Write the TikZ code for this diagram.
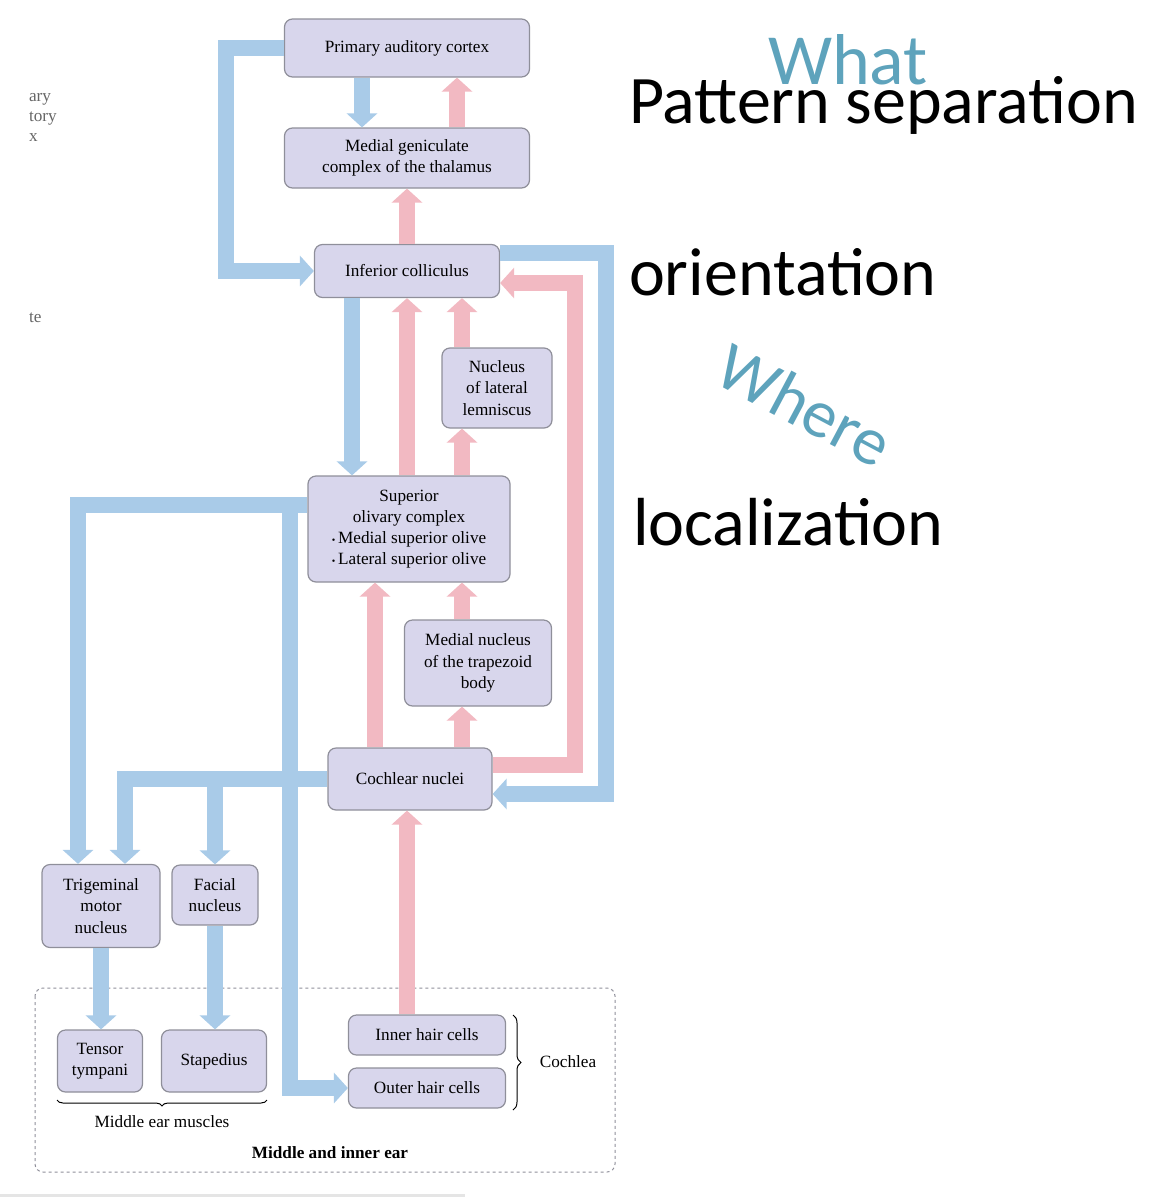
\documentclass[tikz,border=0pt]{standalone}
\usepackage{fontspec}
\setmainfont{Liberation Serif}
\newfontfamily\side{Carlito}
\usetikzlibrary{arrows.meta,decorations.pathreplacing}
\definecolor{bfill}{HTML}{A9CBE8}
\definecolor{pfill}{HTML}{F2B9C2}
\definecolor{boxf}{HTML}{D8D6EC}
\definecolor{boxd}{HTML}{8F8F9A}
\definecolor{teal}{HTML}{5EA3BC}
\begin{document}
\begin{tikzpicture}[x=0.5pt,y=-0.5pt,
  box/.style={draw=boxd,fill=boxf,rounded corners=4pt,line width=0.6pt,align=center,inner sep=0pt,font=\fontsize{8.6}{10.6}\selectfont},
  bl/.style={draw=bfill,line width=8pt,-{Triangle[width=15pt,length=7pt]}},
  pk/.style={draw=pfill,line width=8pt,-{Triangle[width=15pt,length=7pt]}},
  side/.style={font=\side\fontsize{34}{38}\selectfont,anchor=west}]
\useasboundingbox (0,0) rectangle (1164,1200);
% boxes
\node[box,minimum width=122.5pt,minimum height=29pt] (PAC) at (407,48) {Primary auditory cortex};
\node[box,minimum width=122.5pt,minimum height=30pt] (MGC) at (407,158) {Medial geniculate\\complex of the thalamus};
\node[box,minimum width=92.5pt,minimum height=26.5pt] (IC) at (407,271) {Inferior colliculus};
\node[box,minimum width=55pt,minimum height=40pt] (NLL) at (497,388) {Nucleus\\of lateral\\lemniscus};
\node[box,minimum width=101pt,minimum height=53pt] (SOC) at (409,529) {Superior\\olivary complex\\{\tiny\textbullet}\,Medial superior olive\\{\tiny\textbullet}\,Lateral superior olive};
\node[box,minimum width=73.5pt,minimum height=43pt] (MNTB) at (478,663) {Medial nucleus\\of the trapezoid\\body};
\node[box,minimum width=82pt,minimum height=31pt] (CN) at (410,779) {Cochlear nuclei};
\node[box,minimum width=59pt,minimum height=41.5pt] (TMN) at (101,906) {Trigeminal\\motor\\nucleus};
\node[box,minimum width=43pt,minimum height=30pt] (FN) at (215,895) {Facial\\nucleus};
\node[box,minimum width=42.5pt,minimum height=31pt] (TT) at (100,1061) {Tensor\\tympani};
\node[box,minimum width=52.5pt,minimum height=31pt] (ST) at (214,1061) {Stapedius};
\node[box,minimum width=78.5pt,minimum height=20pt] (IHC) at (427,1035) {Inner hair cells};
\node[box,minimum width=78.5pt,minimum height=20pt] (OHC) at (427,1088) {Outer hair cells};
% dashed frame
\draw[boxd,dash pattern=on 1.5pt off 1.5pt,line width=0.5pt,rounded corners=4pt] (35,988) rectangle (615,1172);
\draw[decorate,decoration={brace,amplitude=4pt},line width=0.5pt] (513,1015) -- (513,1110);
\node[font=\fontsize{8.6}{10}\selectfont] (coch) at (568,1062) {Cochlea};
\draw[decorate,decoration={brace,amplitude=3pt,mirror},line width=0.5pt] (57,1100) -- (267,1100);
\node[font=\fontsize{8.6}{10}\selectfont] (mem) at (162,1122) {Middle ear muscles};
\node[font=\bfseries\fontsize{8.6}{10}\selectfont] (mie) at (330,1153) {Middle and inner ear};
% arrows
\draw[bl] (PAC.south -| 362,0) -- (MGC.north -| 362,0);
\draw[pk] (MGC.north -| 457,0) -- (PAC.south -| 457,0);
\draw[pk] (IC.north) -- (MGC.south);
\draw[bl] (PAC.west) -- (226,48) -- (226,271) -- (IC.west);
\draw[bl] (IC.south -| 352,0) -- (SOC.north -| 352,0);
\draw[pk] (SOC.north -| 407,0) -- (IC.south -| 407,0);
\draw[pk] (NLL.north -| 462,0) -- (IC.south -| 462,0);
\draw[pk] (SOC.north -| 462,0) -- (NLL.south -| 462,0);
\draw[bl] (IC.east |- 0,253) -- (606,253) -- (606,794) -- (CN.east |- 0,794);
\draw[pk] (CN.east |- 0,765) -- (575,765) -- (575,283) -- (IC.east |- 0,283);
\draw[pk] (CN.north -| 375,0) -- (SOC.south -| 375,0);
\draw[pk] (MNTB.north -| 462,0) -- (SOC.south -| 462,0);
\draw[pk] (CN.north -| 462,0) -- (MNTB.south -| 462,0);
\draw[bl] (SOC.west |- 0,505) -- (78,505) -- (TMN.north -| 78,0);
\draw[bl] (290,505) -- (290,1088) -- (OHC.west);
\draw[bl] (CN.west) -- (125,779) -- (TMN.north -| 125,0);
\draw[bl] (215,779) -- (FN.north);
\draw[bl] (TMN.south) -- (TT.north -| TMN.south);
\draw[bl] (FN.south) -- (ST.north -| FN.south);
\draw[pk] (IHC.north -| 407,0) -- (CN.south -| 407,0);
% left cut-off text
\node[font=\fontsize{8.6}{10}\selectfont,anchor=west,align=left,text=gray!80!black] (cut1) at (22,117) {ary\\tory\\x};
\node[font=\fontsize{8.6}{10}\selectfont,anchor=west,text=gray!80!black] (cut2) at (22,318) {te};
\draw[gray!20,line width=1.5pt] (0,1195) -- (465,1195);
% side text
\node[font=\side\fontsize{36}{40}\selectfont,text=teal] (what) at (848,60) {What};
\node[side] (pat) at (622,105) {Pattern separation};
\node[side] (ori) at (622,272) {orientation};
\node[font=\side\fontsize{34}{40}\selectfont,text=teal,rotate=-28] (where) at (805,405) {Where};
\node[side] (loc) at (626,522) {localization};
\end{tikzpicture}
\end{document}
